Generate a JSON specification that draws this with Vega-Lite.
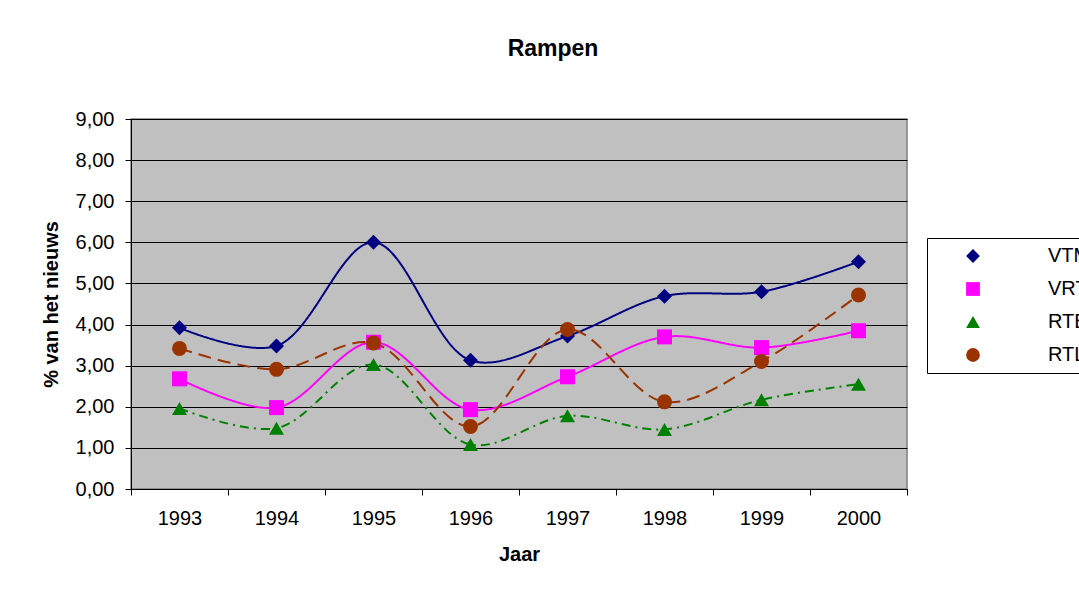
{
  "$schema": "https://vega.github.io/schema/vega-lite/v6.json",
  "autosize": "none",
  "width": 776,
  "height": 370,
  "padding": {"left": 131, "top": 119, "right": 172, "bottom": 102},
  "background": "white",
  "title": {"text": "Rampen", "font": "Liberation Sans", "fontSize": 23, "fontWeight": "bold", "color": "black", "offset": 48, "anchor": "middle", "dx": 34},
  "config": {
    "view": {"fill": "#C0C0C0", "stroke": "#808080", "strokeWidth": 1.5},
    "font": "Liberation Sans",
    "legend": {
      "title": null, "orient": "none", "legendX": 796, "legendY": 119,
      "fillColor": "white", "strokeColor": "black", "padding": 8,
      "symbolSize": 190, "symbolStrokeWidth": 0, "symbolOpacity": 1,
      "labelFont": "Liberation Sans", "labelFontSize": 20, "labelColor": "black",
      "rowPadding": 13, "labelOffset": 65
    }
  },
  "data": {"values": [
    {"Jaar": "1993", "zender": "VTM", "pct": 3.92},
    {"Jaar": "1994", "zender": "VTM", "pct": 3.48},
    {"Jaar": "1995", "zender": "VTM", "pct": 6.0},
    {"Jaar": "1996", "zender": "VTM", "pct": 3.13},
    {"Jaar": "1997", "zender": "VTM", "pct": 3.72},
    {"Jaar": "1998", "zender": "VTM", "pct": 4.69},
    {"Jaar": "1999", "zender": "VTM", "pct": 4.80},
    {"Jaar": "2000", "zender": "VTM", "pct": 5.53},
    {"Jaar": "1993", "zender": "VRT", "pct": 2.68},
    {"Jaar": "1994", "zender": "VRT", "pct": 1.98},
    {"Jaar": "1995", "zender": "VRT", "pct": 3.57},
    {"Jaar": "1996", "zender": "VRT", "pct": 1.93},
    {"Jaar": "1997", "zender": "VRT", "pct": 2.73},
    {"Jaar": "1998", "zender": "VRT", "pct": 3.70},
    {"Jaar": "1999", "zender": "VRT", "pct": 3.44},
    {"Jaar": "2000", "zender": "VRT", "pct": 3.85},
    {"Jaar": "1993", "zender": "RTBF", "pct": 1.96},
    {"Jaar": "1994", "zender": "RTBF", "pct": 1.48},
    {"Jaar": "1995", "zender": "RTBF", "pct": 3.03},
    {"Jaar": "1996", "zender": "RTBF", "pct": 1.08},
    {"Jaar": "1997", "zender": "RTBF", "pct": 1.78},
    {"Jaar": "1998", "zender": "RTBF", "pct": 1.45},
    {"Jaar": "1999", "zender": "RTBF", "pct": 2.17},
    {"Jaar": "2000", "zender": "RTBF", "pct": 2.55},
    {"Jaar": "1993", "zender": "RTL", "pct": 3.42},
    {"Jaar": "1994", "zender": "RTL", "pct": 2.91},
    {"Jaar": "1995", "zender": "RTL", "pct": 3.55},
    {"Jaar": "1996", "zender": "RTL", "pct": 1.52},
    {"Jaar": "1997", "zender": "RTL", "pct": 3.88},
    {"Jaar": "1998", "zender": "RTL", "pct": 2.12},
    {"Jaar": "1999", "zender": "RTL", "pct": 3.10},
    {"Jaar": "2000", "zender": "RTL", "pct": 4.72}
  ]},
  "encoding": {
    "x": {
      "field": "Jaar", "type": "ordinal", "bandPosition": 0.5,
      "scale": {"type": "band", "paddingInner": 0, "paddingOuter": 0},
      "axis": {
        "title": "Jaar", "titleFont": "Liberation Sans", "titleFontSize": 20, "titleFontWeight": "bold", "titleColor": "black", "titlePadding": 16,
        "labelAngle": 0, "labelFont": "Liberation Sans", "labelFontSize": 20, "labelColor": "black", "labelPadding": 13,
        "tickBand": "extent", "tickSize": 6, "tickColor": "black", "domainColor": "black", "grid": false
      }
    },
    "y": {
      "field": "pct", "type": "quantitative",
      "scale": {"domain": [0, 9], "nice": false, "zero": true},
      "axis": {
        "title": "% van het nieuws", "titleFont": "Liberation Sans", "titleFontSize": 20, "titleFontWeight": "bold", "titleColor": "black", "titlePadding": 14,
        "values": [0, 1, 2, 3, 4, 5, 6, 7, 8, 9],
        "labelExpr": "replace(format(datum.value, '.2f'), '.', ',')",
        "labelFont": "Liberation Sans", "labelFontSize": 20, "labelColor": "black", "labelPadding": 11,
        "tickSize": 6, "tickColor": "black", "domainColor": "black",
        "grid": true, "gridColor": "black", "gridWidth": 1, "gridOpacity": 1
      }
    },
    "color": {
      "field": "zender", "type": "nominal",
      "scale": {"domain": ["VTM", "VRT", "RTBF", "RTL"], "range": ["#000080", "#FF00FF", "#008000", "#993300"]},
      "legend": {
        "title": null, "orient": "none", "legendX": 796, "legendY": 119,
        "fillColor": "white", "strokeColor": "black", "padding": 8,
        "symbolSize": 190, "symbolStrokeWidth": 0, "symbolOpacity": 1, "symbolOffset": 28,
        "labelFont": "Liberation Sans", "labelFontSize": 20, "labelColor": "black",
        "rowPadding": 13, "labelOffset": 65
      }
    }
  },
  "layer": [
    {
      "mark": {"type": "line", "interpolate": "catmull-rom", "strokeWidth": 2},
      "encoding": {
        "strokeDash": {
          "field": "zender", "type": "nominal",
          "scale": {"domain": ["VTM", "VRT", "RTBF", "RTL"], "range": [[1, 0], [1, 0], [9, 5, 2, 5], [13, 7]]},
          "legend": null
        }
      }
    },
    {
      "mark": {"type": "point", "filled": true, "size": 225, "opacity": 1, "strokeWidth": 0},
      "encoding": {
        "shape": {
          "field": "zender", "type": "nominal",
          "scale": {"domain": ["VTM", "VRT", "RTBF", "RTL"], "range": ["diamond", "square", "triangle-up", "circle"]}
        }
      }
    }
  ]
}
